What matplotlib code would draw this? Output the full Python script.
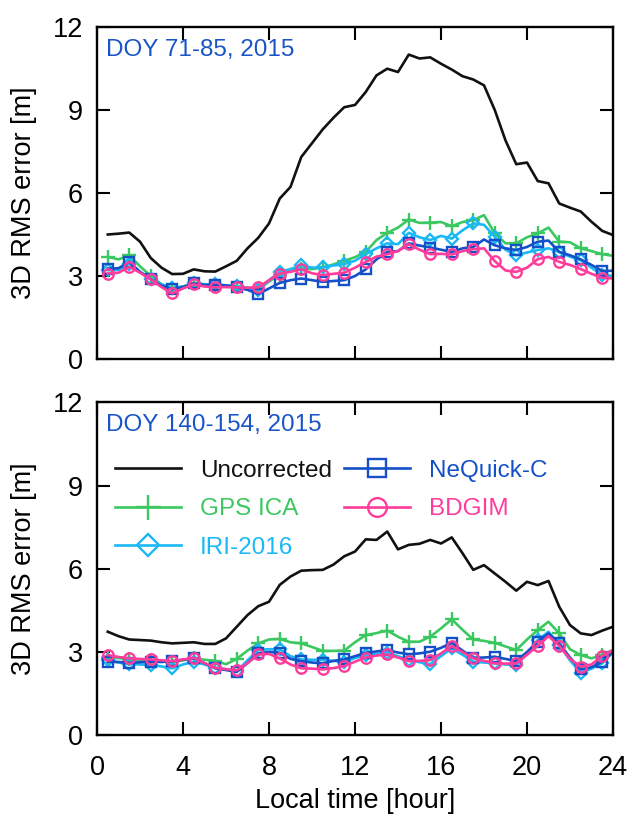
import numpy as np
import matplotlib
matplotlib.use("Agg")
import matplotlib.pyplot as plt

plt.rcParams['font.family'] = ['Liberation Sans', 'DejaVu Sans']

# local time, half-hour steps
hours = np.arange(1, 49) * 0.5

# DOY 71-85, 2015
unc_a = [4.50, 4.53, 4.57, 4.24, 3.65, 3.30, 3.07, 3.08, 3.24, 3.17, 3.16, 3.35,
         3.55, 4.00, 4.38, 4.90, 5.80, 6.22, 7.30, 7.80, 8.30, 8.72, 9.10, 9.18,
         9.65, 10.25, 10.49, 10.37, 11.00, 10.86, 10.90, 10.67, 10.46, 10.22, 10.10, 9.89,
         9.00, 7.90, 7.04, 7.10, 6.43, 6.35, 5.62, 5.47, 5.33, 4.96, 4.63, 4.48]
gps_a = [3.69, 3.60, 3.75, 3.35, 3.00, 2.70, 2.57, 2.62, 2.73, 2.70, 2.68, 2.66,
         2.62, 2.58, 2.50, 2.80, 3.05, 3.20, 3.27, 3.25, 3.31, 3.42, 3.55, 3.68,
         3.87, 4.30, 4.56, 4.75, 5.04, 4.92, 4.93, 4.95, 4.80, 4.95, 5.02, 5.20,
         4.54, 4.18, 4.18, 4.40, 4.54, 4.75, 4.24, 4.22, 4.00, 3.90, 3.79, 3.73]
iri_a = [3.21, 3.22, 3.45, 3.15, 2.91, 2.70, 2.55, 2.62, 2.73, 2.70, 2.70, 2.66,
         2.63, 2.55, 2.49, 2.85, 3.15, 3.25, 3.39, 3.30, 3.31, 3.38, 3.43, 3.55,
         3.79, 4.00, 4.18, 4.15, 4.56, 4.40, 4.30, 4.45, 4.35, 4.65, 4.90, 4.85,
         4.42, 3.95, 3.75, 3.85, 3.94, 4.00, 3.87, 3.70, 3.57, 3.30, 3.03, 3.00]
neq_a = [3.27, 3.28, 3.51, 3.15, 2.88, 2.65, 2.52, 2.60, 2.73, 2.68, 2.67, 2.66,
         2.59, 2.50, 2.35, 2.55, 2.75, 2.85, 2.91, 2.85, 2.79, 2.82, 2.85, 3.00,
         3.24, 3.60, 3.87, 3.90, 4.18, 4.10, 4.03, 3.95, 3.87, 4.00, 4.05, 4.32,
         4.11, 4.00, 3.94, 4.05, 4.24, 4.28, 3.87, 3.75, 3.60, 3.40, 3.18, 3.19]
bdg_a = [3.09, 3.12, 3.33, 3.12, 2.88, 2.60, 2.37, 2.55, 2.70, 2.62, 2.59, 2.60,
         2.59, 2.58, 2.59, 2.85, 3.09, 3.15, 3.24, 3.10, 3.03, 3.08, 3.12, 3.30,
         3.51, 3.70, 3.79, 3.90, 4.15, 3.95, 3.79, 3.80, 3.78, 3.90, 3.97, 4.00,
         3.54, 3.20, 3.15, 3.30, 3.61, 3.69, 3.51, 3.40, 3.25, 3.08, 2.94, 2.91]

# DOY 140-154, 2015
unc_b = [3.73, 3.57, 3.45, 3.43, 3.41, 3.35, 3.31, 3.33, 3.35, 3.29, 3.29, 3.49,
         3.91, 4.33, 4.65, 4.81, 5.42, 5.72, 5.93, 5.95, 5.96, 6.15, 6.45, 6.62,
         7.06, 7.04, 7.34, 6.70, 6.86, 6.90, 7.04, 6.91, 7.13, 6.56, 5.96, 6.13,
         5.83, 5.53, 5.21, 5.53, 5.41, 5.56, 4.63, 3.97, 3.67, 3.61, 3.77, 3.91]
gps_b = [2.80, 2.78, 2.74, 2.72, 2.71, 2.68, 2.65, 2.70, 2.77, 2.72, 2.68, 2.56,
         2.75, 3.05, 3.31, 3.45, 3.47, 3.35, 3.31, 3.18, 3.04, 3.04, 3.05, 3.35,
         3.61, 3.68, 3.77, 3.55, 3.37, 3.37, 3.55, 3.85, 4.18, 3.80, 3.45, 3.40,
         3.33, 3.20, 3.07, 3.45, 3.79, 4.09, 3.67, 3.10, 2.89, 2.77, 2.89, 3.07]
iri_b = [2.71, 2.62, 2.56, 2.55, 2.53, 2.48, 2.41, 2.55, 2.65, 2.55, 2.43, 2.38,
         2.31, 2.70, 3.07, 3.10, 3.09, 2.85, 2.73, 2.72, 2.71, 2.68, 2.65, 2.78,
         2.89, 2.93, 2.97, 2.85, 2.71, 2.63, 2.56, 2.85, 3.13, 2.90, 2.65, 2.62,
         2.59, 2.55, 2.53, 2.95, 3.43, 3.73, 3.25, 2.70, 2.25, 2.40, 2.59, 3.00]
neq_b = [2.65, 2.64, 2.61, 2.63, 2.65, 2.64, 2.67, 2.72, 2.77, 2.60, 2.41, 2.35,
         2.28, 2.60, 2.95, 3.00, 2.97, 2.75, 2.67, 2.62, 2.59, 2.68, 2.73, 2.85,
         2.97, 3.02, 3.07, 2.98, 2.92, 2.95, 3.01, 3.15, 3.33, 3.05, 2.79, 2.80,
         2.83, 2.75, 2.67, 3.00, 3.37, 3.67, 3.31, 2.80, 2.37, 2.45, 2.65, 3.00]
bdg_b = [2.89, 2.82, 2.77, 2.75, 2.73, 2.70, 2.67, 2.73, 2.79, 2.60, 2.43, 2.38,
         2.34, 2.60, 2.91, 2.93, 2.77, 2.55, 2.41, 2.40, 2.37, 2.42, 2.49, 2.65,
         2.80, 2.87, 2.91, 2.80, 2.67, 2.68, 2.71, 2.95, 3.21, 3.00, 2.77, 2.68,
         2.59, 2.58, 2.59, 2.90, 3.22, 3.57, 3.22, 2.75, 2.47, 2.55, 2.86, 3.07]

titles = ["DOY 71-85, 2015", "DOY 140-154, 2015"]
xticks = [0, 4, 8, 12, 16, 20, 24]
yticks = [0, 3, 6, 9, 12]

black = '#111111'
green = '#3cc860'
cyan = '#1ab8f5'
blue = '#1450c8'
pink = '#ff3c9a'

fig = plt.figure(figsize=(6.3, 8.16), dpi=100)
ax1 = fig.add_axes([0.154, 0.560, 0.819, 0.407])
ax2 = fig.add_axes([0.154, 0.099, 0.819, 0.408])

data = [(unc_a, gps_a, iri_a, neq_a, bdg_a), (unc_b, gps_b, iri_b, neq_b, bdg_b)]

for ax, (unc, gps, iri, neq, bdg), title in zip([ax1, ax2], data, titles):
    ax.plot(hours, unc, color=black, lw=1.9, label='Uncorrected')
    ax.plot(hours, gps, color=green, lw=1.9, marker='+', ms=10, mew=1.7,
            markevery=(0, 2), label='GPS ICA')
    ax.plot(hours, iri, color=cyan, lw=1.9, marker='D', ms=6.5, mew=1.7, mfc='none',
            markevery=(0, 2), label='IRI-2016')
    ax.plot(hours, neq, color=blue, lw=1.9, marker='s', ms=7.5, mew=1.7, mfc='none',
            markevery=(0, 2), label='NeQuick-C')
    ax.plot(hours, bdg, color=pink, lw=1.9, marker='o', ms=7.5, mew=1.7, mfc='none',
            markevery=(0, 2), label='BDGIM')
    ax.set_xlim(0, 24)
    ax.set_ylim(0, 12)
    ax.set_xticks(xticks)
    ax.set_yticks(yticks)
    ax.tick_params(direction='in', length=9.5, width=1.5, top=True, right=True,
                   labelsize=19.5)
    ax.tick_params(axis='y', pad=10)
    ax.tick_params(axis='x', pad=14)
    for s in ax.spines.values():
        s.set_linewidth(1.7)
    ax.set_ylabel("3D RMS error [m]", fontsize=19.5, labelpad=11)
    ax.text(0.018, 0.965, title, transform=ax.transAxes, color='#1a55c8',
            fontsize=17.5, ha='left', va='top')

ax1.tick_params(axis='x', labelbottom=False)
ax2.set_xlabel("Local time [hour]", fontsize=19.5, labelpad=5)

h, l = ax2.get_legend_handles_labels()
leg = ax2.legend(h, l, ncol=2,
                 loc='upper left', bbox_to_anchor=(0.035, 0.828), frameon=False,
                 fontsize=17.5, handlelength=2.7, handletextpad=0.8,
                 columnspacing=0.5, labelspacing=0.68, markerscale=1.8,
                 labelcolor='linecolor', borderaxespad=0, borderpad=0)

fig.savefig("out.png", dpi=100)
